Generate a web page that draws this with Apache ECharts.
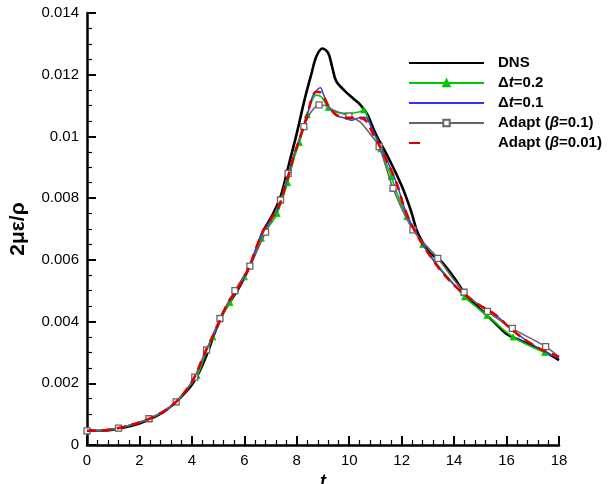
<!DOCTYPE html>
<html><head><meta charset="utf-8">
<script src="https://cdn.jsdelivr.net/npm/echarts@6/dist/echarts.min.js"></script>
<style>html,body{margin:0;padding:0;background:#fff}#c{width:616px;height:484px}</style>
</head><body><div id="c"></div>
<script>
// ---- data ----
const seriesNames = ['DNS', 'Δt=0.2', 'Δt=0.1', 'Adapt (β=0.1)', 'Adapt (β=0.01)'];

const tDNS = [0, 0.5, 1, 1.5, 2, 2.5, 3, 3.5, 4, 4.3, 4.6, 4.9, 5.2, 5.5, 5.8, 6.1, 6.4, 6.7, 6.9, 7.1, 7.4, 7.7, 8.0, 8.3, 8.55, 8.75, 8.98, 9.2, 9.35, 9.5, 9.8, 10.15, 10.45, 10.7, 11.0, 11.5, 12.0, 12.35, 12.6, 12.85, 13.1, 13.45, 13.85, 14.1, 14.5, 15.0, 15.5, 16.0, 16.5, 17.0, 17.5, 18.0];
const yDNS = [0.00046, 0.00046, 0.0005, 0.00058, 0.0007, 0.00088, 0.00112, 0.00148, 0.00195, 0.0024, 0.003, 0.0037, 0.0043, 0.0047, 0.0051, 0.0056, 0.0062, 0.0069, 0.0072, 0.0075, 0.0081, 0.0091, 0.0101, 0.0112, 0.0120, 0.0126, 0.01285, 0.0127, 0.01225, 0.0118, 0.0115, 0.01123, 0.0110, 0.0107, 0.0101, 0.0093, 0.0084, 0.0076, 0.0069, 0.0065, 0.0062, 0.0060, 0.0056, 0.0053, 0.0048, 0.0044, 0.0040, 0.0036, 0.0034, 0.0032, 0.0030, 0.00275];

const tDt02 = [0, 0.6, 1.2, 1.8, 2.4, 3.0, 3.4, 3.8, 4.2, 4.5, 4.8, 5.1, 5.45, 5.7, 6.0, 6.3, 6.65, 6.95, 7.25, 7.65, 7.9, 8.1, 8.4, 8.6, 8.75, 8.94, 9.2, 9.57, 10.02, 10.4, 10.55, 10.78, 11.2, 11.6, 11.85, 12.2, 12.8, 13.4, 13.9, 14.4, 15.25, 16.25, 17.45, 18];
const yDt02 = [0.00046, 0.00047, 0.00055, 0.00068, 0.00086, 0.00113, 0.0014, 0.0018, 0.00225, 0.0029, 0.0035, 0.0041, 0.00462, 0.005, 0.00545, 0.006, 0.0067, 0.0071, 0.0075, 0.0085, 0.0093, 0.0098, 0.0107, 0.0112, 0.01134, 0.01128, 0.01094, 0.01077, 0.01075, 0.0108, 0.01086, 0.01042, 0.0096, 0.0087, 0.0081, 0.0074, 0.0065, 0.0058, 0.0053, 0.0048, 0.0042, 0.0035, 0.003, 0.00284];
const markDt02 = [0, 1.2, 2.4, 3.4, 4.2, 4.8, 5.45, 6.0, 6.65, 7.25, 7.65, 8.1, 8.4, 9.2, 10.55, 11.2, 11.6, 12.2, 12.8, 14.4, 15.25, 16.25, 17.45];

const tDt01 = [0, 0.6, 1.2, 1.8, 2.4, 3.0, 3.4, 3.8, 4.1, 4.5, 4.9, 5.1, 5.4, 5.7, 6.0, 6.2, 6.5, 6.7, 7.0, 7.3, 7.6, 7.9, 8.1, 8.4, 8.6, 8.75, 8.9, 9.0, 9.2, 9.5, 9.8, 10.08, 10.35, 10.6, 10.9, 11.3, 11.8, 12.1, 12.4, 12.8, 13.45, 14.1, 14.85, 15.6, 16.25, 17.1, 18];
const yDt01 = [0.00046, 0.00047, 0.00055, 0.00068, 0.00086, 0.00113, 0.0014, 0.0018, 0.0022, 0.003, 0.0037, 0.0041, 0.00465, 0.005, 0.00545, 0.0058, 0.0065, 0.0069, 0.0073, 0.0077, 0.0085, 0.0094, 0.0099, 0.0107, 0.0113, 0.01148, 0.01158, 0.0114, 0.011, 0.01068, 0.0106, 0.01052, 0.0106, 0.01062, 0.0102, 0.0095, 0.0085, 0.0077, 0.0071, 0.0065, 0.0057, 0.0051, 0.0046, 0.0042, 0.0037, 0.0032, 0.0028];

const tAd1 = [0, 0.6, 1.2, 1.8, 2.36, 3.0, 3.4, 3.8, 4.11, 4.56, 5.07, 5.64, 6.21, 6.81, 7.38, 7.67, 8.0, 8.27, 8.55, 8.85, 9.1, 9.38, 9.99, 10.4, 10.78, 11.14, 11.67, 12.43, 13.38, 14.38, 15.27, 16.22, 17.49, 18];
const yAd1 = [0.00046, 0.00047, 0.00055, 0.00068, 0.00085, 0.00113, 0.0014, 0.0018, 0.0022, 0.00308, 0.0041, 0.005, 0.0058, 0.0069, 0.00794, 0.0088, 0.0097, 0.01032, 0.0108, 0.01102, 0.011, 0.01086, 0.01066, 0.01048, 0.0101, 0.00967, 0.00832, 0.00697, 0.00605, 0.00495, 0.00433, 0.00378, 0.00319, 0.00286];
const markAd1 = [0, 1.2, 2.36, 3.4, 4.11, 4.56, 5.07, 5.64, 6.21, 6.81, 7.38, 7.67, 8.27, 8.85, 9.99, 11.14, 11.67, 12.43, 13.38, 14.38, 15.27, 16.22, 17.49];

const tAd01 = [0, 0.6, 1.2, 1.8, 2.4, 3.0, 3.4, 3.8, 4.1, 4.5, 4.9, 5.1, 5.4, 5.7, 6.0, 6.2, 6.5, 6.7, 7.0, 7.3, 7.6, 7.9, 8.1, 8.4, 8.6, 8.75, 8.95, 9.2, 9.5, 9.9, 10.4, 10.65, 10.9, 11.3, 11.8, 12.1, 12.4, 12.8, 13.45, 14.1, 14.85, 15.6, 16.25, 17.1, 18];
const yAd01 = [0.00046, 0.00047, 0.00055, 0.00068, 0.00086, 0.00113, 0.0014, 0.0018, 0.0022, 0.003, 0.0037, 0.0041, 0.00465, 0.005, 0.00545, 0.0058, 0.0065, 0.0069, 0.0073, 0.0077, 0.0085, 0.0094, 0.0099, 0.0107, 0.0113, 0.01145, 0.0114, 0.011, 0.0107, 0.0106, 0.0106, 0.0105, 0.0101, 0.00945, 0.0085, 0.0077, 0.0071, 0.0065, 0.0057, 0.0051, 0.0046, 0.0042, 0.0037, 0.0032, 0.00285];

const xTicks = {min: 0, max: 18, step: 2};
const yTicks = {min: 0, max: 0.014, step: 0.002};

// ---- chart ----
const FONT = '"Liberation Sans", Arial, Helvetica, sans-serif';
function pts(ts, ys, marks) {
  return ts.map((t, i) => {
    const d = {value: [t, ys[i]]};
    if (marks && marks.indexOf(t) < 0) d.symbol = 'none';
    return d;
  });
}
function richName(name) {
  if (name.indexOf('Δt') === 0) return '{b|Δ}{bi|t}{b|' + name.slice(2) + '}';
  const k = name.indexOf('β');
  if (k >= 0) return '{b|' + name.slice(0, k) + '}{bi|β}{b|' + name.slice(k + 1) + '}';
  return '{b|' + name + '}';
}
const axisCommon = {
  type: 'value',
  axisLine: {show: true, onZero: false, lineStyle: {color: '#000', width: 2.5}},
  axisTick: {show: true, inside: true, length: 9, lineStyle: {color: '#000', width: 2}},
  minorTick: {show: true, length: 5, lineStyle: {color: '#000', width: 1.2}},
  splitLine: {show: false},
  minorSplitLine: {show: false},
  axisLabel: {color: '#000', fontSize: 15, fontFamily: FONT, margin: 8}
};
const hideSym = {opacity: 0};
const chart = echarts.init(document.getElementById('c'), null, {renderer: 'canvas'});
chart.setOption({
  animation: false,
  backgroundColor: '#fff',
  grid: {left: 87, right: 57, top: 13, bottom: 39, containLabel: false, outerBoundsMode: 'none'},
  xAxis: Object.assign({}, axisCommon, {
    min: xTicks.min, max: xTicks.max, interval: xTicks.step,
    minorTick: Object.assign({}, axisCommon.minorTick, {splitNumber: 5}),
    name: 't', nameLocation: 'middle', nameGap: 23,
    nameTextStyle: {color: '#000', fontSize: 18, fontWeight: 'bold', fontStyle: 'italic', fontFamily: FONT}
  }),
  yAxis: Object.assign({}, axisCommon, {
    min: yTicks.min, max: yTicks.max, interval: yTicks.step,
    minorTick: Object.assign({}, axisCommon.minorTick, {splitNumber: 4}),
    axisLabel: Object.assign({}, axisCommon.axisLabel, {formatter: v => String(+v.toFixed(3))}),
    name: '2με/ρ', nameLocation: 'middle', nameGap: 58,
    nameTextStyle: {color: '#000', fontSize: 21, fontWeight: 'bold', fontFamily: FONT}
  }),
  legend: {
    orient: 'vertical', left: 408, top: 54, padding: 0,
    itemWidth: 75, itemHeight: 8, itemGap: 2,
    data: [
      {name: seriesNames[0], itemStyle: hideSym},
      {name: seriesNames[1]},
      {name: seriesNames[2], itemStyle: hideSym},
      {name: seriesNames[3]},
      {name: seriesNames[4], itemStyle: hideSym, lineStyle: {type: [11, 100]}}
    ],
    formatter: richName,
    textStyle: {
      color: '#000', fontSize: 15, fontWeight: 'bold', fontFamily: FONT, padding: [0, 0, 0, 9], lineHeight: 18,
      rich: {
        b: {color: '#000', fontSize: 15, fontWeight: 'bold', fontFamily: FONT, lineHeight: 18},
        bi: {color: '#000', fontSize: 15, fontWeight: 'bold', fontStyle: 'italic', fontFamily: FONT, lineHeight: 18}
      }
    }
  },
  series: [
    {name: seriesNames[0], type: 'line', smooth: 0.35, symbol: 'none', z: 2,
     lineStyle: {color: '#000', width: 2.6}, itemStyle: {color: '#000'},
     data: pts(tDNS, yDNS)},
    {name: seriesNames[1], type: 'line', smooth: 0.35, symbol: 'triangle', symbolSize: 6, showAllSymbol: true, z: 3,
     lineStyle: {color: '#00c800', width: 1.6}, itemStyle: {color: '#00c800', borderColor: '#00c800', borderWidth: 0.8},
     data: pts(tDt02, yDt02, markDt02)},
    {name: seriesNames[2], type: 'line', smooth: 0.35, symbol: 'none', z: 4,
     lineStyle: {color: '#3030ff', width: 1.4}, itemStyle: {color: '#3030ff'},
     data: pts(tDt01, yDt01)},
    {name: seriesNames[3], type: 'line', smooth: 0.3, symbol: 'rect', symbolSize: 6, showAllSymbol: true, z: 5,
     lineStyle: {color: '#666', width: 1.6}, itemStyle: {color: '#fff', borderColor: '#666', borderWidth: 1.3},
     data: pts(tAd1, yAd1, markAd1)},
    {name: seriesNames[4], type: 'line', smooth: 0.35, symbol: 'none', z: 6,
     lineStyle: {color: '#dd0000', width: 2.6, type: [9, 6]}, itemStyle: {color: '#dd0000'},
     data: pts(tAd01, yAd01)}
  ]
});
</script></body></html>
